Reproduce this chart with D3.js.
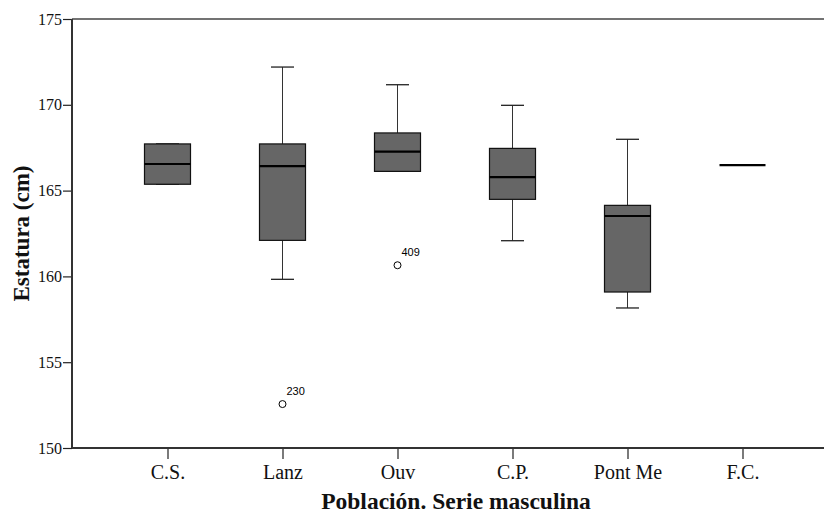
<!DOCTYPE html>
<html>
<head>
<meta charset="utf-8">
<script src="https://cdn.jsdelivr.net/npm/d3@7/dist/d3.min.js"></script>
<style>
  body { margin: 0; background: #fff; }
  svg { display: block; }
</style>
</head>
<body>
<script>
// datos
var categories = ["C.S.", "Lanz", "Ouv", "C.P.", "Pont Me", "F.C."];
var whiskerLow = [165.37, 159.83, 166.12, 162.08, 158.16, 166.49];
var q1 = [165.37, 162.10, 166.12, 164.49, 159.09, 166.49];
var median = [166.55, 166.43, 167.27, 165.79, 163.52, 166.49];
var q3 = [167.72, 167.72, 168.36, 167.46, 164.14, 166.49];
var whiskerHigh = [167.72, 172.20, 171.17, 169.97, 167.99, 166.49];
var outlierCat = ["Lanz", "Ouv"];
var outlierVal = [152.56, 160.65];
var outlierLab = ["230", "409"];
var yTicks = [150, 155, 160, 165, 170, 175];

var width = 824, height = 513;
var mLeft = 72, mTop = 19, mBottom = 448, mRight = 840;
var serif = "'Palatino Linotype', 'Book Antiqua', Palatino, 'Liberation Serif', serif";

var svg = d3.select("body")
    .append("svg")
    .attr("width", width)
    .attr("height", height);

var x = d3.scalePoint()
    .domain(categories)
    .range([167.5, 742.5]);

var y = d3.scaleLinear()
    .domain([150, 175])
    .range([mBottom, mTop]);

var boxW = 46, capW = 23;

var data = categories.map(function(c, i) {
    return {cat: c, lo: whiskerLow[i], q1: q1[i], med: median[i], q3: q3[i], hi: whiskerHigh[i]};
});

// marco superior
svg.append("line")
    .attr("x1", mLeft).attr("x2", mRight)
    .attr("y1", mTop).attr("y2", mTop)
    .attr("stroke", "#444").attr("stroke-width", 1.5);

var g = svg.selectAll("g.box")
    .data(data)
    .enter()
    .append("g")
    .attr("class", "box");

// bigotes y cajas
g.filter(function(d) { return d.hi > d.lo; })
    .each(function(d) {
        var s = d3.select(this), cx = x(d.cat);
        s.append("line").attr("x1", cx).attr("x2", cx)
            .attr("y1", y(d.hi)).attr("y2", y(d.q3))
            .attr("stroke", "#333").attr("stroke-width", 1);
        s.append("line").attr("x1", cx).attr("x2", cx)
            .attr("y1", y(d.q1)).attr("y2", y(d.lo))
            .attr("stroke", "#333").attr("stroke-width", 1);
        s.append("line").attr("x1", cx - capW / 2).attr("x2", cx + capW / 2)
            .attr("y1", y(d.hi)).attr("y2", y(d.hi))
            .attr("stroke", "#222").attr("stroke-width", 1.3);
        s.append("line").attr("x1", cx - capW / 2).attr("x2", cx + capW / 2)
            .attr("y1", y(d.lo)).attr("y2", y(d.lo))
            .attr("stroke", "#222").attr("stroke-width", 1.3);
        s.append("rect")
            .attr("x", cx - boxW / 2)
            .attr("y", y(d.q3))
            .attr("width", boxW)
            .attr("height", y(d.q1) - y(d.q3))
            .attr("fill", "#666666")
            .attr("stroke", "#111")
            .attr("stroke-width", 1.2);
    });

// medianas
g.append("line")
    .attr("x1", function(d) { return x(d.cat) - boxW / 2; })
    .attr("x2", function(d) { return x(d.cat) + boxW / 2; })
    .attr("y1", function(d) { return y(d.med); })
    .attr("y2", function(d) { return y(d.med); })
    .attr("stroke", "#000")
    .attr("stroke-width", 2.2);

// valores atípicos
var out = outlierCat.map(function(c, i) { return {cat: c, v: outlierVal[i], lab: outlierLab[i]}; });
svg.selectAll("circle.out")
    .data(out)
    .enter()
    .append("circle")
    .attr("class", "out")
    .attr("cx", function(d) { return x(d.cat); })
    .attr("cy", function(d) { return y(d.v); })
    .attr("r", 3.5)
    .attr("fill", "#fff")
    .attr("stroke", "#000")
    .attr("stroke-width", 1);
svg.selectAll("text.out")
    .data(out)
    .enter()
    .append("text")
    .attr("class", "out")
    .attr("x", function(d) { return x(d.cat) + 4; })
    .attr("y", function(d) { return y(d.v) - 9; })
    .attr("font-family", "'Liberation Sans', Arial, sans-serif")
    .attr("font-size", 11)
    .text(function(d) { return d.lab; });

// ejes
var xAxis = svg.append("g")
    .attr("transform", "translate(0," + mBottom + ")")
    .call(d3.axisBottom(x).tickSize(11).tickSizeOuter(0));
xAxis.select(".domain").remove();
xAxis.append("line")
    .attr("x1", mLeft).attr("x2", mRight)
    .attr("stroke", "#333").attr("stroke-width", 2);
xAxis.selectAll(".tick line").attr("stroke", "#222").attr("stroke-width", 1.2);
xAxis.selectAll(".tick text")
    .attr("y", 31).attr("dy", 0)
    .attr("fill", "#111")
    .attr("font-family", serif)
    .attr("font-size", 20);

var yAxis = svg.append("g")
    .attr("transform", "translate(" + mLeft + ",0)")
    .call(d3.axisLeft(y).tickValues(yTicks).tickSize(9).tickSizeOuter(0));
yAxis.select(".domain").remove();
yAxis.append("line")
    .attr("y1", mTop).attr("y2", mBottom)
    .attr("stroke", "#333").attr("stroke-width", 2);
yAxis.selectAll(".tick line").attr("stroke", "#222").attr("stroke-width", 1.2);
yAxis.selectAll(".tick text")
    .attr("x", -10)
    .attr("fill", "#111")
    .attr("font-family", serif)
    .attr("font-size", 16);

// títulos
svg.append("text")
    .attr("x", (mLeft + mRight) / 2)
    .attr("y", 509)
    .attr("text-anchor", "middle")
    .attr("font-family", serif)
    .attr("font-weight", "bold")
    .attr("font-size", 23.5)
    .attr("fill", "#111")
    .text("Población. Serie masculina");

svg.append("text")
    .attr("transform", "translate(29," + (mTop + mBottom) / 2 + ") rotate(-90)")
    .attr("text-anchor", "middle")
    .attr("font-family", serif)
    .attr("font-weight", "bold")
    .attr("font-size", 23)
    .attr("fill", "#111")
    .text("Estatura (cm)");
</script>
</body>
</html>
